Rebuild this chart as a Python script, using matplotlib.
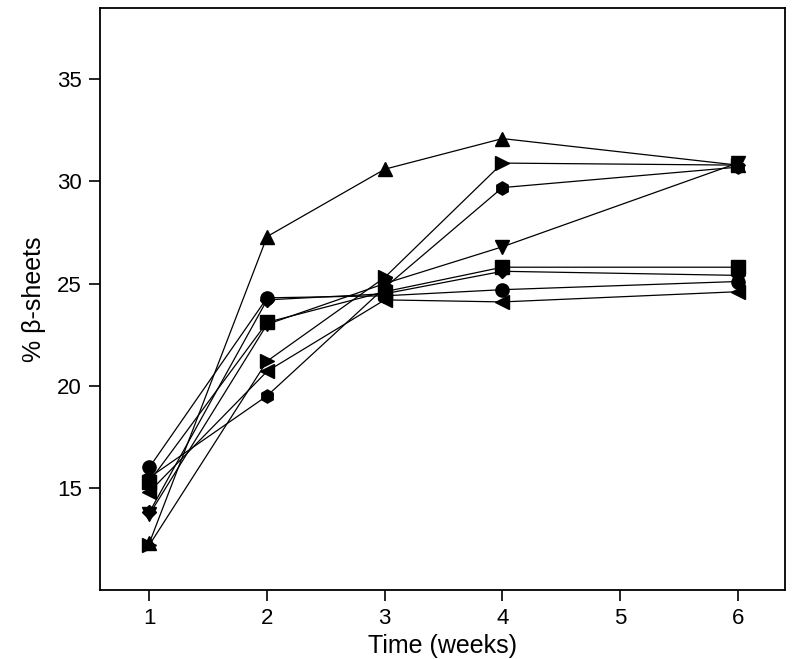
import matplotlib
matplotlib.use('Agg')
import matplotlib.pyplot as plt

weeks = [1, 2, 3, 4, 6]

# % beta-sheets per sample
tri_up = [12.3, 27.3, 30.6, 32.1, 30.8]
tri_right = [12.2, 21.2, 25.3, 30.9, 30.8]
hexagon = [15.5, 19.5, 24.8, 29.7, 30.7]
tri_down = [13.7, 23.0, 25.0, 26.8, 30.9]
square = [15.3, 23.1, 24.6, 25.8, 25.8]
diamond = [13.8, 24.2, 24.5, 25.6, 25.4]
circle = [16.0, 24.3, 24.4, 24.7, 25.1]
tri_left = [14.8, 20.7, 24.2, 24.1, 24.6]

series = [(tri_up, '^'), (tri_right, '>'), (hexagon, 'h'), (tri_down, 'v'),
          (square, 's'), (diamond, 'D'), (circle, 'o'), (tri_left, '<')]

plt.rcParams['font.family'] = ['Liberation Sans', 'DejaVu Sans']

fig = plt.figure(figsize=(8, 6.59), dpi=100)
ax = fig.add_axes([0.125, 0.105, 0.856, 0.883])

for vals, mk in series:
    ms = 7.5 if mk == 'D' else 9.5
    ax.plot(weeks, vals, '-', color='black', lw=0.9, marker=mk, ms=ms,
            mfc='black', mec='black')

ax.set_xlim(0.58, 6.4)
ax.set_ylim(10, 38.5)
ax.set_xticks([1, 2, 3, 4, 5, 6])
ax.set_yticks([15, 20, 25, 30, 35])
ax.tick_params(direction='out', length=8, width=1.2, labelsize=16, pad=5)
for s in ax.spines.values():
    s.set_linewidth(1.3)

ax.set_xlabel('Time (weeks)', fontsize=18, labelpad=4)
ax.set_ylabel('% β-sheets', fontsize=18, labelpad=8)

fig.savefig('out.png', dpi=100)
